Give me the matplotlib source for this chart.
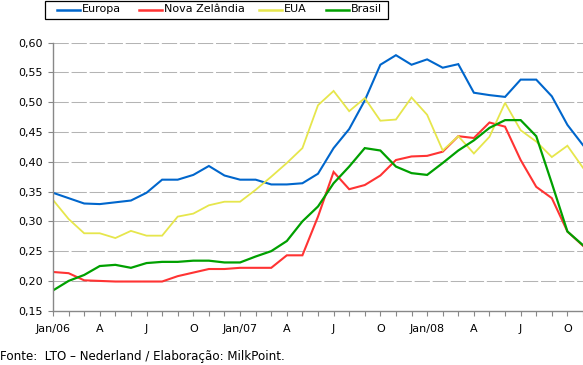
import matplotlib
matplotlib.use('Agg')
import matplotlib.pyplot as plt
from matplotlib.lines import Line2D
from matplotlib.patches import Rectangle

plt.rcParams['font.family'] = ['DejaVu Sans']
plt.rcParams['lines.scale_dashes'] = False

# monthly prices, Jan/06 .. Nov/08
europa = [0.348, 0.339, 0.330, 0.329, 0.332, 0.335, 0.348, 0.370, 0.370, 0.378,
          0.393, 0.377, 0.370, 0.370, 0.362, 0.362, 0.364, 0.380, 0.423, 0.455,
          0.503, 0.563, 0.579, 0.563, 0.572, 0.558, 0.564, 0.516, 0.512, 0.509,
          0.538, 0.538, 0.510, 0.462, 0.428]
nova_zelandia = [0.215, 0.213, 0.201, 0.200, 0.199, 0.199, 0.199, 0.199, 0.208, 0.214,
                 0.220, 0.220, 0.222, 0.222, 0.222, 0.243, 0.243, 0.308, 0.383, 0.354,
                 0.361, 0.377, 0.403, 0.409, 0.410, 0.417, 0.443, 0.440, 0.466, 0.459,
                 0.403, 0.358, 0.339, 0.283, 0.259]
eua = [0.336, 0.304, 0.280, 0.280, 0.272, 0.284, 0.276, 0.276, 0.308, 0.313,
       0.327, 0.333, 0.333, 0.353, 0.375, 0.398, 0.423, 0.495, 0.519, 0.485,
       0.507, 0.469, 0.471, 0.508, 0.479, 0.419, 0.443, 0.414, 0.442, 0.499,
       0.453, 0.434, 0.408, 0.427, 0.390]
brasil = [0.184, 0.200, 0.210, 0.225, 0.227, 0.222, 0.230, 0.232, 0.232, 0.234,
          0.234, 0.231, 0.231, 0.241, 0.250, 0.267, 0.300, 0.325, 0.364, 0.392,
          0.423, 0.419, 0.392, 0.381, 0.378, 0.398, 0.419, 0.436, 0.457, 0.470,
          0.470, 0.443, 0.364, 0.283, 0.260]

series_names = ['Europa', 'Nova Zelândia', 'EUA', 'Brasil']
colors = ['#0066CC', '#FF3333', '#E6E64C', '#00A000']
widths = [1.5, 1.5, 1.3, 1.6]

x_labels = ['Jan/06', 'A', 'J', 'O', 'Jan/07', 'A', 'J', 'O', 'Jan/08', 'A', 'J', 'O']
y_ticks = [0.15, 0.20, 0.25, 0.30, 0.35, 0.40, 0.45, 0.50, 0.55, 0.60]

fig = plt.figure(figsize=(5.83, 3.65), dpi=100)
ax = fig.add_axes([53 / 583, 54.3 / 365, 530 / 583, 268 / 365])

months = list(range(len(europa)))
for vals, name, c, w in zip([europa, nova_zelandia, eua, brasil], series_names, colors, widths):
    ax.plot(months, vals, color=c, lw=w, label=name, solid_joinstyle='miter')

ax.set_xlim(0, len(europa) - 1)
ax.set_ylim(0.15, 0.60)

ax.set_yticks(y_ticks)
ax.set_yticklabels([('%.2f' % v).replace('.', ',') for v in y_ticks])
ax.set_xticks(range(0, 36, 3))
ax.set_xticklabels(x_labels)
ax.set_xticks(months, minor=True)

for v in y_ticks[1:]:
    ax.axhline(v, color='#B4B4B4', lw=0.75, dashes=(11, 2), zorder=0)

for s in ['top', 'right']:
    ax.spines[s].set_visible(False)
for s in ['left', 'bottom']:
    ax.spines[s].set_color('#888888')
    ax.spines[s].set_linewidth(1.0)

ax.tick_params(axis='both', which='both', color='#888888', length=3.5, width=0.8,
               labelsize=8, labelcolor='black')
ax.tick_params(axis='x', which='major', pad=6)
ax.tick_params(axis='y', pad=4)

# legend box at the top
fig.add_artist(Rectangle((45 / 583, 1 - 18.5 / 365), 343 / 583, 17.5 / 365,
                         transform=fig.transFigure, fill=False, edgecolor='black', lw=0.9))
handle_x = [57, 139, 259, 326]
for hx, name, c in zip(handle_x, series_names, colors):
    yy = 1 - 9.5 / 365
    fig.add_artist(Line2D([hx / 583, (hx + 23) / 583], [yy, yy], transform=fig.transFigure,
                          color=c, lw=1.8))
    fig.text((hx + 25) / 583, yy, name, fontsize=8, va='center', ha='left')

fig.text(0, 2 / 365, 'Fonte:  LTO – Nederland / Elaboração: MilkPoint.', fontsize=8.6,
         ha='left', va='bottom')

fig.savefig('out.png', dpi=100)
